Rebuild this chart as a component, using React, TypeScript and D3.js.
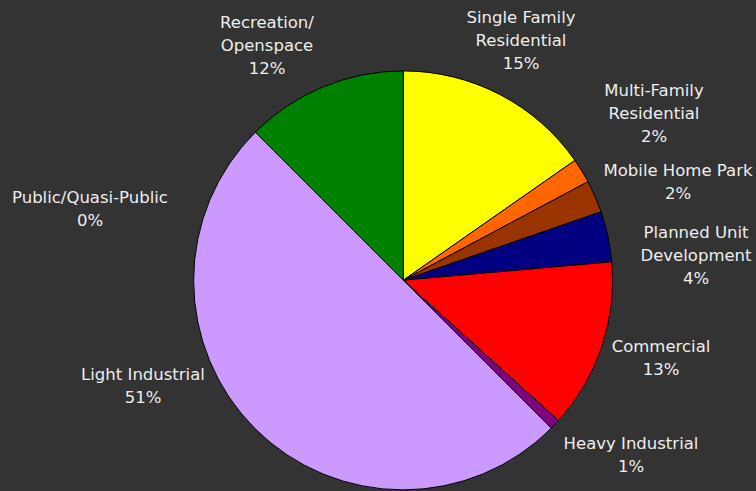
import React, { useEffect, useRef } from 'react';
import * as d3 from 'd3';

// slices clockwise from 12 o'clock
const categories = [
  'Single Family Residential',
  'Multi-Family Residential',
  'Mobile Home Park',
  'Planned Unit Development',
  'Commercial',
  'Heavy Industrial',
  'Light Industrial',
  'Public/Quasi-Public',
  'Recreation/Openspace',
];
const values = [15.3, 1.9, 2.5, 3.9, 13.1, 0.8, 50.0, 0.0, 12.5];
const percentLabels = ['15%', '2%', '2%', '4%', '13%', '1%', '51%', '0%', '12%'];
const labelLines = [
  ['Single Family', 'Residential'],
  ['Multi-Family', 'Residential'],
  ['Mobile Home Park'],
  ['Planned Unit', 'Development'],
  ['Commercial'],
  ['Heavy Industrial'],
  ['Light Industrial'],
  ['Public/Quasi-Public'],
  ['Recreation/', 'Openspace'],
];
const colors = ['#ffff00', '#ff6600', '#993300', '#000080', '#ff0000', '#800080', '#cc99ff', '#33cccc', '#008000'];

// label anchor (centre x, first baseline) - manual placement like the original
const labelAnchor: [number, number][] = [
  [521, 23], [654, 96], [678, 176], [696, 238], [661, 352],
  [631, 449], [143, 380], [90, 203], [267, 28],
];

const W = 756;
const H = 491;

export default function App() {
  const svgRef = useRef<SVGSVGElement>(null);

  useEffect(() => {
    if (!svgRef.current) return;
    const svg = d3.select(svgRef.current);
    svg.selectAll('*').remove();

    svg.append('rect').attr('width', W).attr('height', H).attr('fill', '#333333');

    const cx = 403.3;
    const cy = 280.2;
    const r = 209.3;

    const pie = d3.pie<number>().sort(null).value((d) => d);
    const arcs = pie(values);
    const arc = d3.arc<d3.PieArcDatum<number>>().innerRadius(0).outerRadius(r);

    const g = svg.append('g').attr('transform', `translate(${cx},${cy})`);
    g.selectAll('path')
      .data(arcs)
      .join('path')
      .attr('d', arc)
      .attr('fill', (_d, i) => colors[i])
      .attr('stroke', '#000')
      .attr('stroke-width', 1)
      .attr('stroke-linejoin', 'round');

    // labels
    const lg = svg.append('g')
      .attr('font-family', '"DejaVu Sans", Verdana, sans-serif')
      .attr('font-size', 16.5)
      .attr('fill', '#eeeeee')
      .attr('text-anchor', 'middle');

    categories.forEach((_c, i) => {
      const [x, y] = labelAnchor[i];
      const lines = [...labelLines[i], percentLabels[i]];
      const t = lg.append('text').attr('x', x).attr('y', y);
      lines.forEach((line, j) => {
        t.append('tspan')
          .attr('x', x)
          .attr('y', y + j * 23.2)
          .text(line);
      });
    });
  }, []);

  return (
    <svg
      ref={svgRef}
      width={W}
      height={H}
      style={{ position: 'fixed', left: 0, top: 0, display: 'block' }}
    />
  );
}
